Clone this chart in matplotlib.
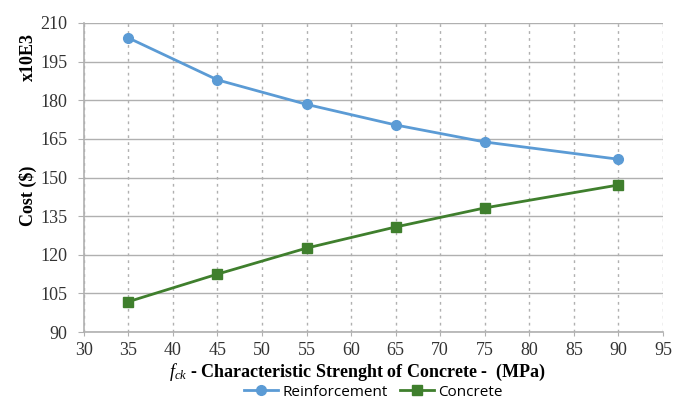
import matplotlib.pyplot as plt

# data (cost in x10E3 $)
fck = [35, 45, 55, 65, 75, 90]
reinforcement = [204.2, 187.9, 178.4, 170.4, 163.8, 157.1]
concrete = [101.8, 112.5, 122.6, 130.8, 138.2, 147.1]
xticks = list(range(30, 100, 5))
yticks = list(range(90, 211, 15))

blue = '#5B9BD5'
green = '#3F7F2D'
grid = '#b0b0b0'

plt.rcParams['font.family'] = 'Liberation Serif'
plt.rcParams['mathtext.fontset'] = 'custom'
plt.rcParams['mathtext.it'] = 'Liberation Serif:italic'
plt.rcParams['mathtext.rm'] = 'Liberation Serif'

fig = plt.figure(figsize=(6.87, 4.03), dpi=100)
ax = fig.add_axes([0.122, 0.176, 0.843, 0.767])

ax.plot(fck, reinforcement, color=blue, lw=2, marker='o', ms=7, label='Reinforcement')
ax.plot(fck, concrete, color=green, lw=2, marker='s', ms=7, label='Concrete')

ax.set_xlim(30, 95)
ax.set_ylim(90, 210)
ax.set_xticks(xticks)
ax.set_yticks(yticks)
ax.yaxis.grid(True, color=grid, lw=1, ls='-')
ax.xaxis.grid(True, color=grid, lw=1, ls=(0, (2, 3)))
ax.set_axisbelow(True)
for s in ['top', 'right']:
    ax.spines[s].set_visible(False)
for s in ['left', 'bottom']:
    ax.spines[s].set_color(grid)
    ax.spines[s].set_linewidth(1.2)
ax.tick_params(axis='x', length=3, color=grid, labelsize=13, pad=4, labelcolor='#333333')
ax.tick_params(axis='y', length=4, color=grid, labelsize=13, pad=8, labelcolor='#333333')

fig.text(0.041, 0.859, 'x10E3', rotation=90, ha='center', va='center',
         weight='bold', fontsize=13)
fig.text(0.041, 0.515, 'Cost ($)', rotation=90, ha='center', va='center',
         weight='bold', fontsize=13)
fig.text(0.52, 0.075, r'$f_{ck}$ - Characteristic Strenght of Concrete -  (MPa)',
         ha='center', va='center', weight='bold', fontsize=13)

ax.legend(loc='center', bbox_to_anchor=(0.5, -0.195), ncol=2, frameon=False,
          prop={'family': 'Open Sans', 'size': 11}, handlelength=2.2,
          columnspacing=0.8, handletextpad=0.3, borderaxespad=0, borderpad=0)

fig.savefig('out.png', dpi=100)
